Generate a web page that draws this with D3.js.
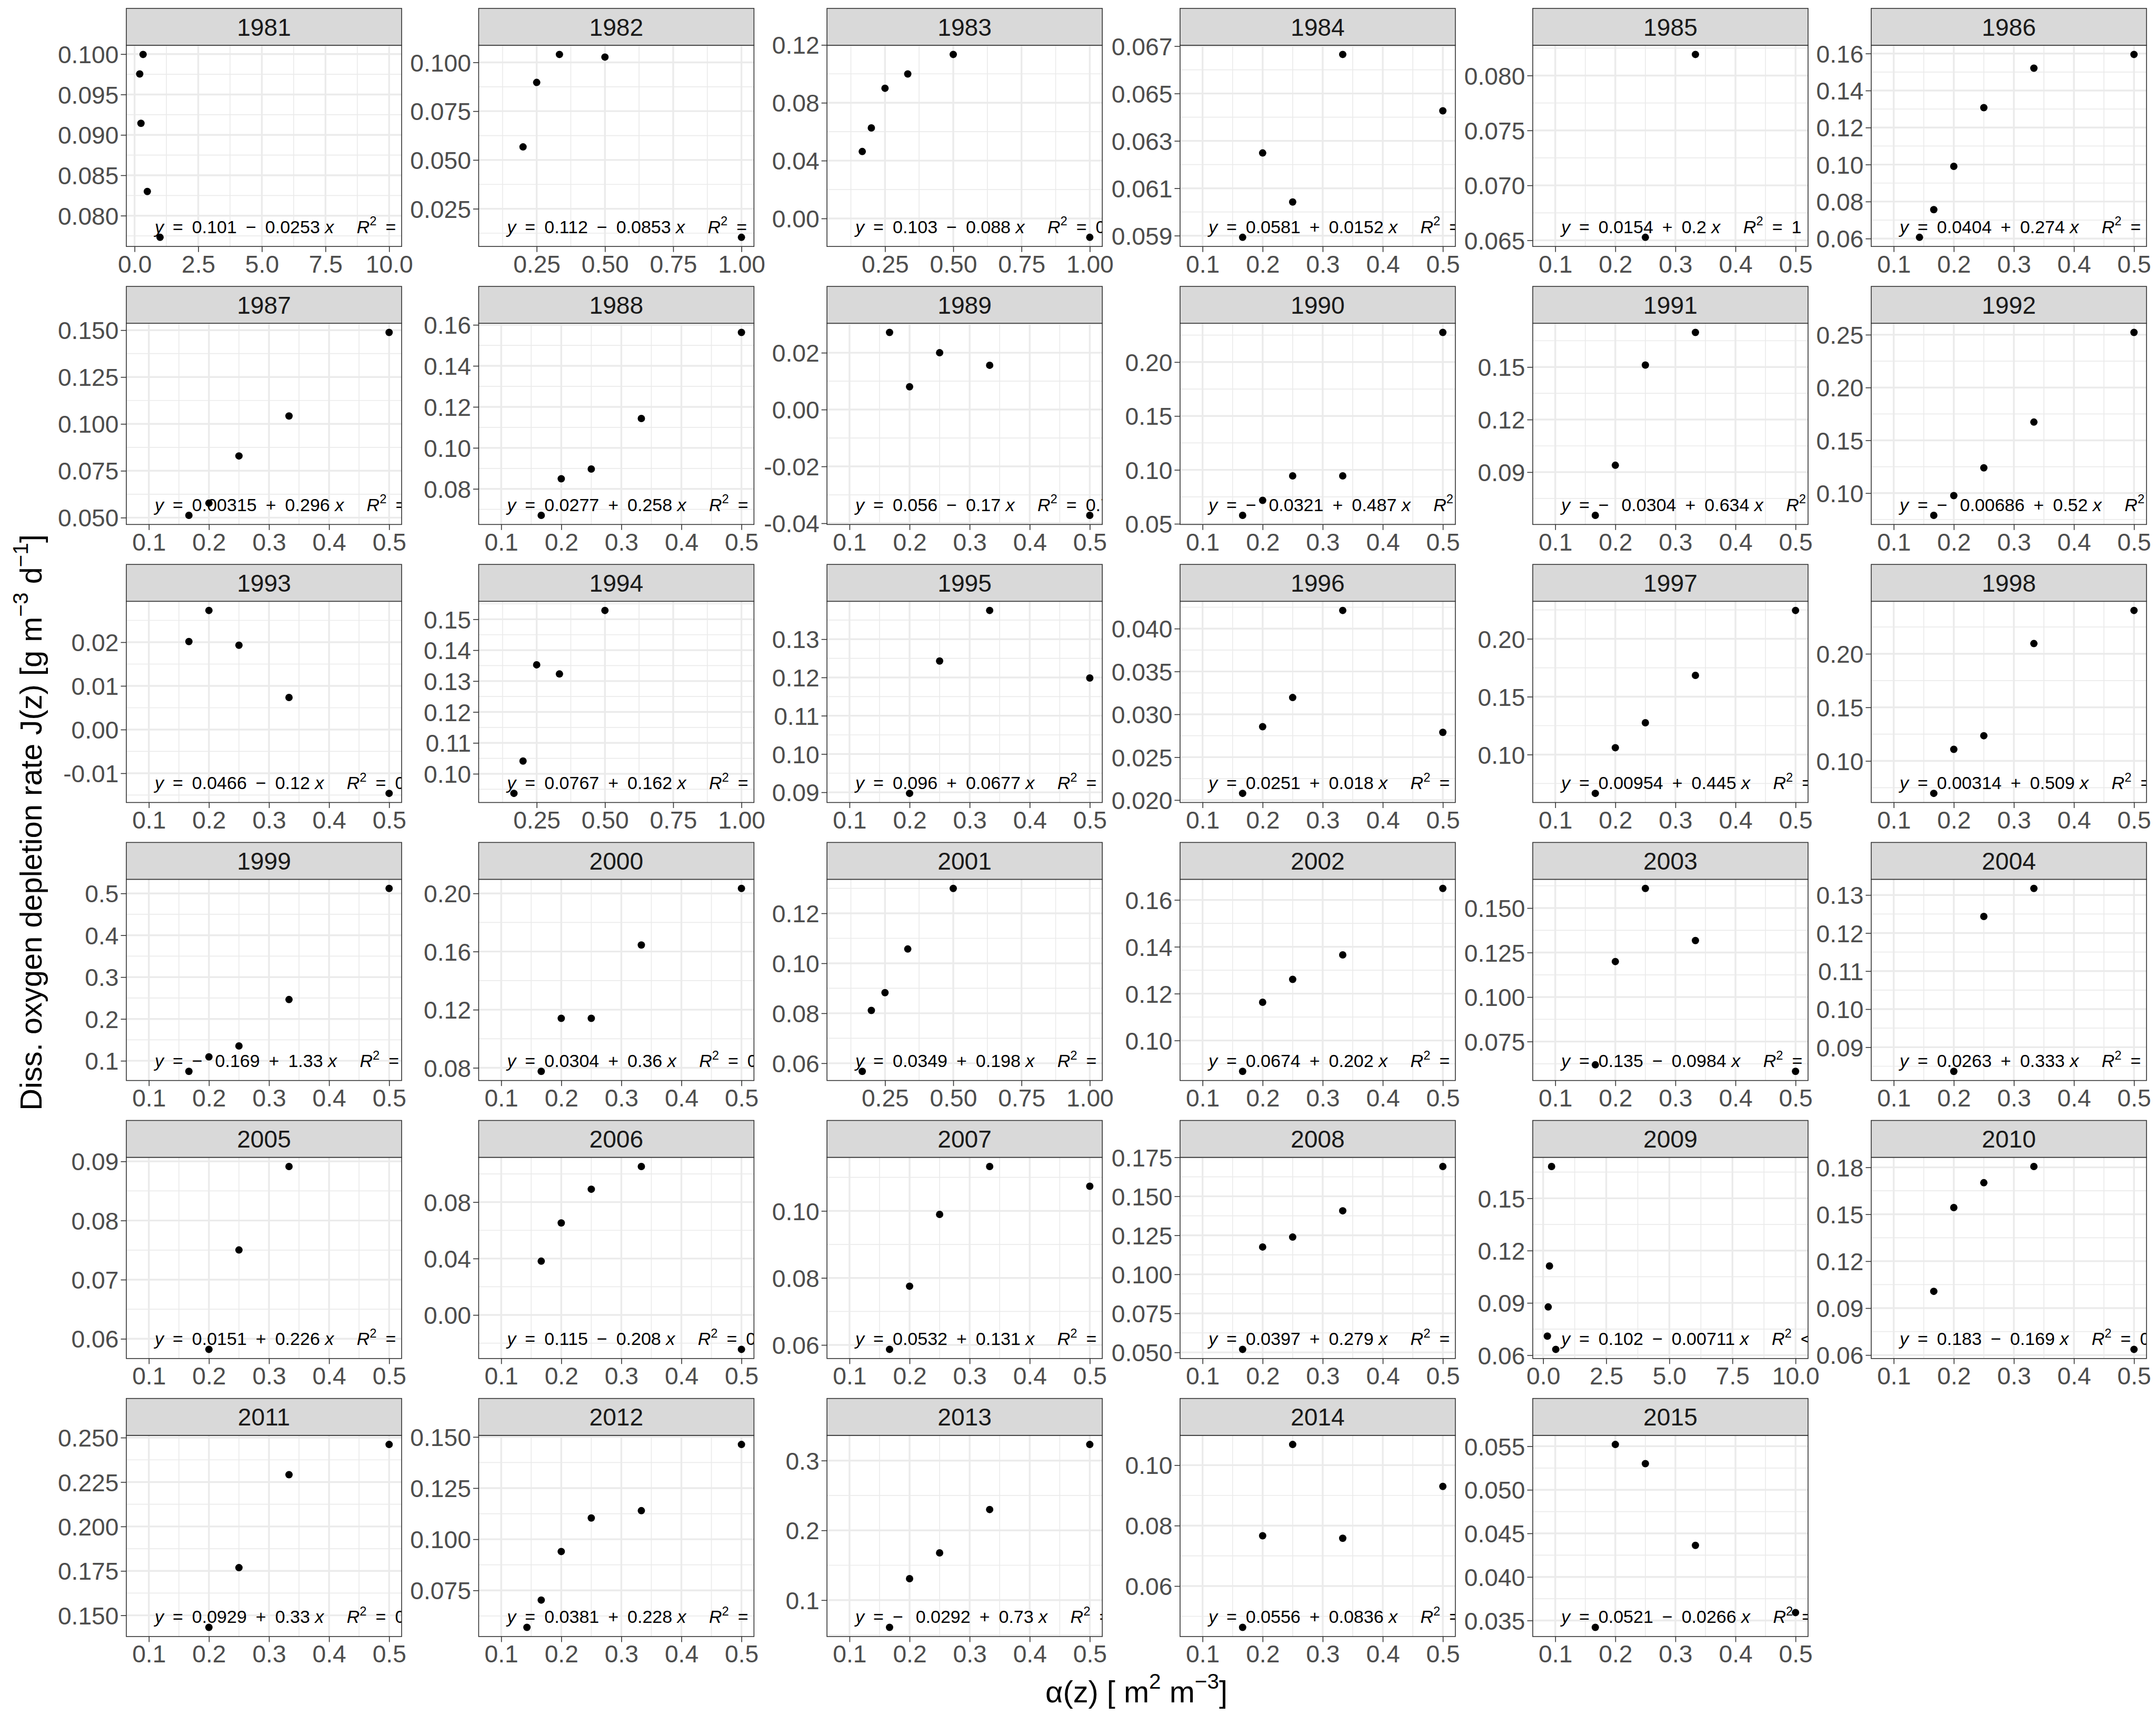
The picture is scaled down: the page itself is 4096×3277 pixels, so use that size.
<!DOCTYPE html>
<html><head><meta charset="utf-8">
<script src="https://cdnjs.cloudflare.com/ajax/libs/d3/7.8.5/d3.min.js"></script>
<style>
body{margin:0;background:#fff}
svg{display:block}
text{font-family:"Liberation Sans",Arial,Helvetica,sans-serif;white-space:pre}
</style>
</head><body>
<script>
// ---------------- DATA ----------------
const years = [1981,1982,1983,1984,1985,1986,1987,1988,1989,1990,1991,1992,1993,1994,1995,1996,1997,1998,
  1999,2000,2001,2002,2003,2004,2005,2006,2007,2008,2009,2010,2011,2012,2013,2014,2015];

// alpha(z) values of the plotted points, per year
const alphaZ = [
  [1/5,1/4,1/3,1/2,1],
  [1/5,1/4,1/3,1/2,1],
  [1/6,1/5,1/4,1/3,1/2,1],
  [1/6,1/5,1/4,1/3,1/2],
  [1/4,1/3],
  [1/7,1/6,1/5,1/4,1/3,1/2],
  [1/6,1/5,1/4,1/3,1/2],
  [1/6,1/5,1/4,1/3,1/2],
  [1/6,1/5,1/4,1/3,1/2],
  [1/6,1/5,1/4,1/3,1/2],
  [1/6,1/5,1/4,1/3],
  [1/6,1/5,1/4,1/3,1/2],
  [1/6,1/5,1/4,1/3,1/2],
  [1/6,1/5,1/4,1/3,1/2],
  [1/5,1/4,1/3,1/2],
  [1/6,1/5,1/4,1/3,1/2],
  [1/6,1/5,1/4,1/3,1/2],
  [1/6,1/5,1/4,1/3,1/2],
  [1/6,1/5,1/4,1/3,1/2],
  [1/6,1/5,1/4,1/3,1/2],
  [1/6,1/5,1/4,1/3,1/2],
  [1/6,1/5,1/4,1/3,1/2],
  [1/6,1/5,1/4,1/3,1/2],
  [1/5,1/4,1/3],
  [1/5,1/4,1/3],
  [1/6,1/5,1/4,1/3,1/2],
  [1/6,1/5,1/4,1/3,1/2],
  [1/6,1/5,1/4,1/3,1/2],
  [1/6,1/5,1/4,1/3,1/2],
  [1/6,1/5,1/4,1/3,1/2],
  [1/5,1/4,1/3,1/2],
  [1/7,1/6,1/5,1/4,1/3,1/2],
  [1/6,1/5,1/4,1/3,1/2],
  [1/6,1/5,1/4,1/3,1/2],
  [1/6,1/5,1/4,1/3,1/2]
];

// J(z) values of the plotted points, per year
const depletionJ = [
  [0.09754,0.09143,0.09996,0.08299,0.07732],
  [0.05668,0.08971,0.10406,0.10271,0.01038],
  [0.04629,0.06261,0.09003,0.09990,0.11342,-0.01304],
  [0.05893,0.06249,0.06042,0.06665,0.06427],
  [0.06527,0.08192],
  [0.06067,0.07562,0.09905,0.13076,0.15210,0.15952],
  [0.05122,0.05771,0.08290,0.10423,0.14878],
  [0.06710,0.08495,0.08968,0.11432,0.15630],
  [0.02714,0.00802,0.02000,0.01559,-0.03721],
  [0.05785,0.07175,0.09444,0.09444,0.22748],
  [0.06534,0.09393,0.15111,0.16973],
  [0.07895,0.09766,0.12394,0.16726,0.25217],
  [0.02016,0.02727,0.01931,0.00734,-0.01460],
  [0.09367,0.10413,0.13527,0.13230,0.15285],
  [0.08972,0.12428,0.13750,0.11986],
  [0.02078,0.02856,0.03196,0.04212,0.02790],
  [0.06651,0.10594,0.12747,0.16842,0.22451],
  [0.06974,0.11086,0.12352,0.20954,0.24046],
  [0.07471,0.10927,0.13541,0.24636,0.51180],
  [0.07757,0.11406,0.11406,0.16449,0.20340],
  [0.05675,0.08113,0.08826,0.10572,0.12995],
  [0.08683,0.11631,0.12610,0.13654,0.16489],
  [0.06192,0.11995,0.16100,0.13174,0.05825],
  [0.08365,0.12436,0.13171],
  [0.05821,0.07502,0.08914],
  [0.03813,0.06525,0.08913,0.10525,-0.02438],
  [0.05868,0.07753,0.09895,0.11326,0.10737],
  [0.05192,0.11753,0.12387,0.14072,0.16911],
  [0.07095,0.08767,0.11118,0.16824,0.06334],
  [0.10073,0.15429,0.17017,0.18056,0.06362],
  [0.14322,0.17682,0.22912,0.24613],
  [0.05691,0.07027,0.09401,0.11038,0.11396,0.14632],
  [0.06092,0.13077,0.16769,0.22985,0.32308],
  [0.04633,0.07665,0.10683,0.07580,0.09295],
  [0.03421,0.05520,0.05300,0.04362,0.03591]
];

// x range of each year's data (incl. depths without a J value)
const xRangeKind = ["ten6","one","one","std","std","std","std","std","std","std","std","std",
  "std","one","std","std","std","std","std","std","one","std","std","std",
  "std","std","std","std","ten","std","std","std","std","std","std"];
const xDataRanges = {std:[1/12,1/2], one:[1/12,1], ten:[1/12,10], ten6:[1/6,10]};
const xTickLabels = {std:["0.1","0.2","0.3","0.4","0.5"], one:["0.25","0.50","0.75","1.00"],
  ten:["0.0","2.5","5.0","7.5","10.0"], ten6:["0.0","2.5","5.0","7.5","10.0"]};

const yTickLabels = [
  ["0.080","0.085","0.090","0.095","0.100"],
  ["0.025","0.050","0.075","0.100"],
  ["0.00","0.04","0.08","0.12"],
  ["0.059","0.061","0.063","0.065","0.067"],
  ["0.065","0.070","0.075","0.080"],
  ["0.06","0.08","0.10","0.12","0.14","0.16"],
  ["0.050","0.075","0.100","0.125","0.150"],
  ["0.08","0.10","0.12","0.14","0.16"],
  ["-0.04","-0.02","0.00","0.02"],
  ["0.05","0.10","0.15","0.20"],
  ["0.09","0.12","0.15"],
  ["0.10","0.15","0.20","0.25"],
  ["-0.01","0.00","0.01","0.02"],
  ["0.10","0.11","0.12","0.13","0.14","0.15"],
  ["0.09","0.10","0.11","0.12","0.13"],
  ["0.020","0.025","0.030","0.035","0.040"],
  ["0.10","0.15","0.20"],
  ["0.10","0.15","0.20"],
  ["0.1","0.2","0.3","0.4","0.5"],
  ["0.08","0.12","0.16","0.20"],
  ["0.06","0.08","0.10","0.12"],
  ["0.10","0.12","0.14","0.16"],
  ["0.075","0.100","0.125","0.150"],
  ["0.09","0.10","0.11","0.12","0.13"],
  ["0.06","0.07","0.08","0.09"],
  ["0.00","0.04","0.08"],
  ["0.06","0.08","0.10"],
  ["0.050","0.075","0.100","0.125","0.150","0.175"],
  ["0.06","0.09","0.12","0.15"],
  ["0.06","0.09","0.12","0.15","0.18"],
  ["0.150","0.175","0.200","0.225","0.250"],
  ["0.075","0.100","0.125","0.150"],
  ["0.1","0.2","0.3"],
  ["0.06","0.08","0.10"],
  ["0.035","0.040","0.045","0.050","0.055"]
];

// fitted equation text: intercept, slope (as printed)
const eqIntercept = ["0.101","0.112","0.103","0.0581","0.0154","0.0404","0.00315","0.0277","0.056","−0.0321","−0.0304","−0.00686",
  "0.0466","0.0767","0.096","0.0251","0.00954","0.00314","−0.169","0.0304","0.0349","0.0674","0.135","0.0263",
  "0.0151","0.115","0.0532","0.0397","0.102","0.183","0.0929","0.0381","−0.0292","0.0556","0.0521"];
const eqSlope = ["−0.0253","−0.0853","−0.088","+0.0152","+0.2","+0.274","+0.296","+0.258","−0.17","+0.487","+0.634","+0.52",
  "−0.12","+0.162","+0.0677","+0.018","+0.445","+0.509","+1.33","+0.36","+0.198","+0.202","−0.0984","+0.333",
  "+0.226","−0.208","+0.131","+0.279","−0.00711","−0.169","+0.33","+0.228","+0.73","+0.0836","−0.0266"];

const xTitle = "α(z)";
const yTitle = "Diss. oxygen depletion rate J(z)";

// ---------------- LAYOUT ----------------
const W = 4096, H = 3277, s = W/5905;
const colLeft = [346,1311,2265,3232,4198,5125].map(v=>v*s);
const panelW = 754*s;
const rowTop0 = 23*s, rowPitch = 761.4*s, stripH = 101*s, panelH = 551*s;
const font = '"Liberation Sans",Arial,Helvetica,sans-serif';
const tickFont = 46.2, stripFont = 46.2, titleFont = 57.8, eqFont = 34;
const tickLen = 10.5, gridMajor = 3.4, gridMinor = 1.7, borderW = 1.6;
const ES = "\u2002", EM = "\u2003", TS = "\u2009";

const svg = d3.select("body").append("svg").attr("width",W).attr("height",H)
  .attr("viewBox",`0 0 ${W} ${H}`);
svg.append("rect").attr("width",W).attr("height",H).attr("fill","#fff");

function minorBreaks(br, dom){
  const st = br[1]-br[0], out=[];
  for(let k=-1;k<br.length;k++){ const v = br[0]+st*k+st/2; if(v>=dom[0]&&v<=dom[1]) out.push(v);}
  return out;
}
function rsq(xs, ys){
  const mx=d3.mean(xs), my=d3.mean(ys);
  let sxy=0,sxx=0,syy=0;
  xs.forEach((x,i)=>{sxy+=(x-mx)*(ys[i]-my);sxx+=(x-mx)**2;syy+=(ys[i]-my)**2;});
  return (sxy*sxy)/(sxx*syy);
}
// drop characters that start beyond the panel edge (they would be fully clipped anyway)
function trimToPanel(node, maxX){
  const tspans = Array.from(node.querySelectorAll("tspan"));
  let n = node.getNumberOfChars();
  while(n > 0){
    if(node.getStartPositionOfChar(n-1).x < maxX) break;
    for(let k=tspans.length-1;k>=0;k--){
      const tx = tspans[k].textContent;
      if(tx.length){ tspans[k].textContent = tx.slice(0,-1); break; }
    }
    n = node.getNumberOfChars();
  }
  tspans.forEach(ts=>{ if(!ts.textContent.length) ts.remove(); });
}

years.forEach((yr,i)=>{
  const r = Math.floor(i/6), c = i%6;
  const left = colLeft[c], stripTop = rowTop0 + r*rowPitch, top = stripTop + stripH;
  const xs = alphaZ[i], ys = depletionJ[i];
  const kind = xRangeKind[i];
  const [xl,xh] = xDataRanges[kind], xp=(xh-xl)*0.05;
  const x = d3.scaleLinear().domain([xl-xp, xh+xp]).range([0,panelW]);
  const [yl,yh] = d3.extent(ys), yp=(yh-yl)*0.05;
  const y = d3.scaleLinear().domain([yl-yp, yh+yp]).range([panelH,0]);
  const xTicks = xTickLabels[kind].map(Number), yTicks = yTickLabels[i].map(Number);

  const g = svg.append("g").attr("transform",`translate(${left},${top})`);
  const cid = "clip"+i;
  g.append("clipPath").attr("id",cid).append("rect").attr("width",panelW).attr("height",panelH);
  const pg = g.append("g").attr("clip-path",`url(#${cid})`);
  pg.append("rect").attr("width",panelW).attr("height",panelH).attr("fill","#fff");
  minorBreaks(yTicks,y.domain()).forEach(v=>pg.append("line").attr("x1",0).attr("x2",panelW)
    .attr("y1",y(v)).attr("y2",y(v)).attr("stroke","#EBEBEB").attr("stroke-width",gridMinor));
  minorBreaks(xTicks,x.domain()).forEach(v=>pg.append("line").attr("y1",0).attr("y2",panelH)
    .attr("x1",x(v)).attr("x2",x(v)).attr("stroke","#EBEBEB").attr("stroke-width",gridMinor));
  yTicks.forEach(v=>pg.append("line").attr("x1",0).attr("x2",panelW)
    .attr("y1",y(v)).attr("y2",y(v)).attr("stroke","#EBEBEB").attr("stroke-width",gridMajor));
  xTicks.forEach(v=>pg.append("line").attr("y1",0).attr("y2",panelH)
    .attr("x1",x(v)).attr("x2",x(v)).attr("stroke","#EBEBEB").attr("stroke-width",gridMajor));
  pg.selectAll("circle").data(xs.map((xv,k)=>[xv,ys[k]])).join("circle")
    .attr("cx",d=>x(d[0])).attr("cy",d=>y(d[1])).attr("r",7).attr("fill","#000");
  // equation label
  const rr = rsq(xs,ys);
  const rrTxt = rr < 0.01 ? ES+"<"+ES+"0.01" : ES+"="+ES + d3.format(".2")(rr);
  const sl = eqSlope[i];
  const ic = eqIntercept[i].startsWith("−") ? "−"+ES+TS+eqIntercept[i].slice(1) : eqIntercept[i];
  const t = pg.append("text").attr("x",54).attr("y",panelH-25.7).attr("font-size",eqFont).attr("fill","#000");
  t.append("tspan").attr("font-style","italic").text("y");
  t.append("tspan").text(ES+"="+ES + ic + ES + sl[0] + ES + sl.slice(1) + " ");
  t.append("tspan").attr("font-style","italic").text("x");
  t.append("tspan").text(EM+" ");
  t.append("tspan").attr("font-style","italic").text("R");
  t.append("tspan").attr("font-size",eqFont*0.7).attr("dy",-eqFont*0.42).text("2");
  t.append("tspan").attr("dy",eqFont*0.42).text(rrTxt);
  trimToPanel(t.node(), panelW);
  g.append("rect").attr("width",panelW).attr("height",panelH).attr("fill","none")
    .attr("stroke","#333333").attr("stroke-width",borderW);
  // strip
  const sg = svg.append("g").attr("transform",`translate(${left},${stripTop})`);
  sg.append("rect").attr("width",panelW).attr("height",stripH).attr("fill","#D9D9D9")
    .attr("stroke","#333333").attr("stroke-width",borderW);
  sg.append("text").attr("x",panelW/2).attr("y",stripH/2).attr("dy","0.36em").attr("text-anchor","middle")
    .attr("font-size",stripFont).attr("fill","#1A1A1A").text(yr);
  // axes
  const ax = g.append("g").attr("transform",`translate(0,${panelH})`)
    .call(d3.axisBottom(x).tickValues(xTicks).tickFormat((d,k)=>xTickLabels[kind][k]).tickSize(tickLen).tickPadding(6));
  const ay = g.append("g")
    .call(d3.axisLeft(y).tickValues(yTicks).tickFormat((d,k)=>yTickLabels[i][k]).tickSize(tickLen).tickPadding(4));
  [ax,ay].forEach(a=>{
    a.select(".domain").remove();
    a.selectAll(".tick line").attr("stroke","#333333").attr("stroke-width",borderW);
    a.selectAll(".tick text").attr("fill","#4D4D4D").attr("font-size",tickFont).attr("font-family",font);
  });
  ay.selectAll(".tick text").attr("dy","0.36em");
});

// axis titles
const panelsLeft = colLeft[0], panelsRight = colLeft[5]+panelW;
const xt = svg.append("text").attr("x",(panelsLeft+panelsRight)/2).attr("y",4663*s)
  .attr("text-anchor","middle").attr("font-size",titleFont).attr("fill","#000");
xt.append("tspan").text(xTitle + " [ m");
xt.append("tspan").attr("font-size",titleFont*0.7).attr("dy",-titleFont*0.45).text("2");
xt.append("tspan").attr("dy",titleFont*0.45).text(" m");
xt.append("tspan").attr("font-size",titleFont*0.7).attr("dy",-titleFont*0.45).text("−3");
xt.append("tspan").attr("dy",titleFont*0.45).text("]");

const panelsTop = rowTop0, panelsBottom = rowTop0 + 5*rowPitch + stripH + panelH;
const yt = svg.append("text").attr("transform",`translate(${79},${(panelsTop+panelsBottom)/2}) rotate(-90)`)
  .attr("text-anchor","middle").attr("font-size",titleFont).attr("fill","#000");
yt.append("tspan").text(yTitle + " [g m");
yt.append("tspan").attr("font-size",titleFont*0.7).attr("dy",-titleFont*0.45).text("−3");
yt.append("tspan").attr("dy",titleFont*0.45).text(" d");
yt.append("tspan").attr("font-size",titleFont*0.7).attr("dy",-titleFont*0.45).text("−1");
yt.append("tspan").attr("dy",titleFont*0.45).text("]");
</script>
</body></html>
